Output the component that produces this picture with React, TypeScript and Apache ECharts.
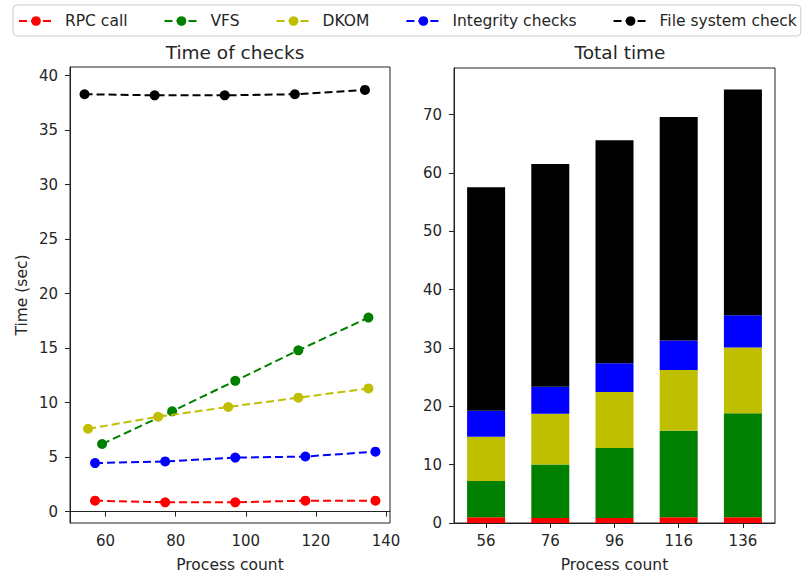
import React, { useEffect, useRef } from "react";
import * as echarts from "echarts";

const seriesNames = ["RPC call", "VFS", "DKOM", "Integrity checks", "File system check"];
const seriesColors = ["#ff0000", "#008000", "#bfbf00", "#0000ff", "#000000"];

// x positions used in the left line chart (as plotted, slightly offset per series)
const rpcX = [57, 77, 97, 117, 137];
const vfsX = [59, 79, 97, 115, 135];
const dkomX = [55, 75, 95, 115, 135];
const integrityX = [57, 77, 97, 117, 137];
const fsX = [54, 74, 94, 114, 134];

// times in seconds
const rpcTime = [1.0, 0.85, 0.85, 1.0, 1.0];
const vfsTime = [6.2, 9.2, 12.0, 14.8, 17.8];
const dkomTime = [7.6, 8.7, 9.6, 10.45, 11.3];
const integrityTime = [4.45, 4.6, 4.95, 5.05, 5.5];
const fsTime = [38.3, 38.2, 38.2, 38.3, 38.7];

const processCounts = ["56", "76", "96", "116", "136"];
const leftXTicks = [60, 80, 100, 120, 140];
const leftYTicks = [0, 5, 10, 15, 20, 25, 30, 35, 40];
const rightYTicks = [0, 10, 20, 30, 40, 50, 60, 70];

const FONT = "DejaVu Sans";
const TXT = "#262626";

export default function App() {
  const ref = useRef<HTMLDivElement>(null);
  useEffect(() => {
    if (!ref.current) return;
    const chart = echarts.init(ref.current, null, { renderer: "svg" });
    const xs = [rpcX, vfsX, dkomX, integrityX, fsX];
    const ys = [rpcTime, vfsTime, dkomTime, integrityTime, fsTime];

    const lineSeries = seriesNames.map((name, i) => ({
      name,
      type: "line",
      xAxisIndex: 0,
      yAxisIndex: 0,
      data: xs[i].map((x, j) => [x, ys[i][j]]),
      symbol: "circle",
      symbolSize: 10,
      itemStyle: { color: seriesColors[i] },
      lineStyle: { color: seriesColors[i], width: 2, type: [8, 4] },
      z: 3 + i,
    }));
    const barSeries = seriesNames.map((name, i) => ({
      name,
      type: "bar",
      xAxisIndex: 1,
      yAxisIndex: 1,
      stack: "total",
      data: ys[i],
      barWidth: 38,
      itemStyle: { color: seriesColors[i] },
    }));

    const axisCommon = {
      axisLine: { show: true, lineStyle: { color: "#222", width: 1 } },
      axisTick: { show: true, length: 5, lineStyle: { color: "#222" } },
      splitLine: { show: false },
      axisLabel: { color: TXT, fontFamily: FONT, fontSize: 15 },
      nameTextStyle: { color: TXT, fontFamily: FONT, fontSize: 15.5 },
    };

    chart.setOption({
      animation: false,
      textStyle: { fontFamily: FONT },
      title: [
        {
          text: "Time of checks",
          left: 230,
          top: 38,
          textAlign: "center",
          textStyle: { fontFamily: FONT, fontSize: 18.5, fontWeight: "normal", color: TXT },
        },
        {
          text: "Total time",
          left: 615,
          top: 38,
          textAlign: "center",
          textStyle: { fontFamily: FONT, fontSize: 18.5, fontWeight: "normal", color: TXT },
        },
      ],
      legend: {
        data: seriesNames,
        left: 13,
        top: 5,
        padding: [8, 4, 7, 5],
        itemGap: 36,
        itemWidth: 34,
        itemHeight: 12,
        borderColor: "#cccccc",
        borderWidth: 1,
        borderRadius: 4,
        textStyle: { fontFamily: FONT, fontSize: 15.5, color: TXT, padding: [0, 0, 0, 7] },
      },
      grid: [
        { left: 70, right: 416, top: 67, bottom: 51, show: true, borderColor: "#222", borderWidth: 1 },
        { left: 454, right: 31, top: 68, bottom: 51, show: true, borderColor: "#222", borderWidth: 1 },
      ],
      xAxis: [
        {
          ...axisCommon,
          type: "value",
          gridIndex: 0,
          min: 49.85,
          max: 141.15,
          axisLabel: { ...axisCommon.axisLabel, margin: 10, customValues: leftXTicks },
          axisTick: { ...axisCommon.axisTick, customValues: leftXTicks },
          name: "Process count",
          nameLocation: "middle",
          nameGap: 34,
        },
        {
          ...axisCommon,
          type: "category",
          gridIndex: 1,
          data: processCounts,
          axisTick: { ...axisCommon.axisTick, alignWithLabel: true },
          axisLabel: { ...axisCommon.axisLabel, margin: 10 },
          name: "Process count",
          nameLocation: "middle",
          nameGap: 34,
        },
      ],
      yAxis: [
        {
          ...axisCommon,
          type: "value",
          gridIndex: 0,
          min: -1.05,
          max: 40.8,
          axisLabel: { ...axisCommon.axisLabel, margin: 12, customValues: leftYTicks },
          axisTick: { ...axisCommon.axisTick, customValues: leftYTicks },
          name: "Time (sec)",
          nameLocation: "middle",
          nameGap: 40,
        },
        {
          ...axisCommon,
          type: "value",
          gridIndex: 1,
          min: 0,
          max: 78,
          axisLabel: { ...axisCommon.axisLabel, margin: 12, customValues: rightYTicks },
          axisTick: { ...axisCommon.axisTick, customValues: rightYTicks },
        },
      ],
      series: [...lineSeries, ...barSeries],
    });
    return () => chart.dispose();
  }, []);
  return (
    <div
      ref={ref}
      style={{ position: "fixed", left: 0, top: 0, width: 806, height: 578, background: "#fff" }}
    />
  );
}
